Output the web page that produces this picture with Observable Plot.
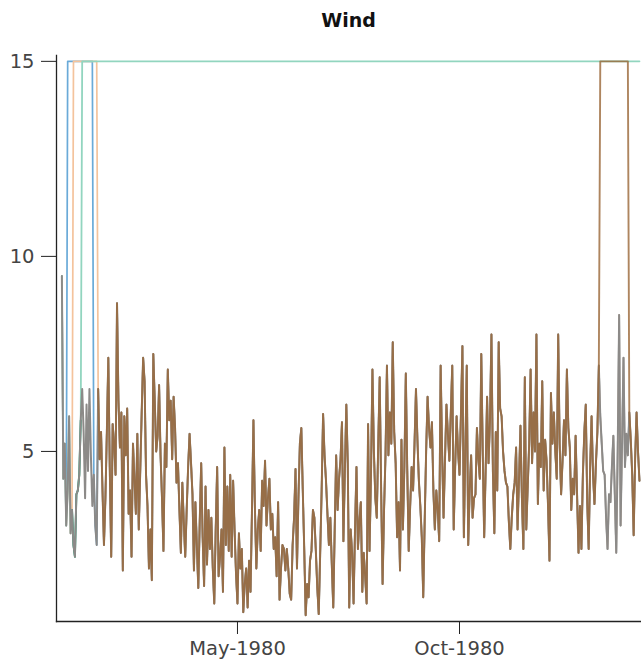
<!DOCTYPE html>
<html>
<head>
<meta charset="utf-8">
<script src="https://cdn.jsdelivr.net/npm/d3@7"></script>
<script src="https://cdn.jsdelivr.net/npm/@observablehq/plot@0.6"></script>
<style>
  html, body { margin: 0; padding: 0; background: #fff; }
  #title { height: 40px; width: 641px; font-family: "DejaVu Sans", sans-serif; font-weight: bold; font-size: 19px; color: #111; box-sizing: border-box; padding-left: 56px; text-align: center; line-height: 40px; }
  #chart svg { display: block; }
</style>
</head>
<body>
<div id="title">Wind</div>
<div id="chart"></div>
<script>
// Daily wind speed, starting 1980-01-01 (one value per day)
const startDate = "1980-01-01";
const wind = [
  9.5,4.3,5.2,3.1,4.0,5.9,2.9,3.5,2.6,2.3,
  3.9,4.0,4.4,5.8,6.6,5.5,3.8,6.2,4.5,6.6,
  4.9,3.6,4.4,3.1,2.6,6.6,4.8,5.5,4.0,2.6,
  3.8,5.5,7.4,4.6,2.3,5.7,5.2,4.4,8.8,6.3,
  5.1,6.0,1.95,5.9,4.9,6.1,3.4,4.0,2.3,5.2,
  4.3,3.4,5.45,3.0,4.5,6.0,7.4,6.8,4.4,3.6,
  2.0,3.0,1.7,7.5,6.3,5.0,5.4,6.7,4.9,3.8,
  2.45,5.2,4.6,7.1,5.8,6.3,4.8,6.4,5.6,4.2,
  4.7,3.5,2.4,4.2,3.2,2.3,3.5,4.6,5.45,4.7,
  3.9,1.95,3.7,2.6,1.5,3.2,4.7,2.8,1.55,4.1,
  2.1,3.5,2.5,3.3,2.0,1.1,3.0,4.6,1.8,2.3,
  3.0,1.4,5.1,2.6,4.1,2.45,4.4,2.3,4.25,3.0,
  1.86,1.1,2.9,2.0,2.5,0.88,1.6,2.0,1.0,2.2,
  1.4,3.5,5.8,3.6,2.0,3.0,3.5,2.45,4.25,3.6,
  4.76,3.1,3.8,4.3,3.0,3.4,2.5,2.8,1.8,3.7,
  1.2,2.0,2.6,2.5,1.95,2.5,2.0,1.35,1.2,2.6,
  3.3,4.55,2.0,3.8,5.2,5.6,4.0,2.5,0.8,1.6,
  1.26,2.2,2.45,3.5,3.3,2.45,1.5,0.83,2.4,4.0,
  5.96,4.9,4.25,3.4,2.6,3.3,2.1,1.0,3.0,4.9,
  3.5,4.3,4.8,5.75,2.7,4.5,6.2,4.7,1.0,3.0,
  2.4,1.1,3.0,4.6,2.5,3.2,3.7,1.4,2.4,1.8,
  1.1,5.7,2.45,4.4,7.1,5.0,3.8,3.3,5.2,6.9,
  4.0,1.6,3.5,4.9,7.2,4.9,6.0,5.2,7.8,5.5,
  4.7,2.8,3.7,1.95,5.3,3.0,4.6,7.0,4.5,2.45,
  3.6,4.6,4.0,5.2,6.6,5.3,4.25,3.6,2.8,1.26,
  3.2,5.0,6.4,5.6,5.1,5.75,4.0,3.0,4.0,3.5,
  2.7,7.2,5.0,3.3,4.8,6.2,5.45,4.76,6.0,7.2,
  3.0,4.6,5.9,5.0,4.4,6.0,7.7,2.8,5.0,7.2,
  2.6,4.0,4.9,3.3,3.8,3.9,5.6,4.8,4.3,7.5,
  5.0,2.8,4.5,6.4,4.7,5.8,8.0,4.5,2.9,5.5,
  4.0,7.8,6.1,5.9,5.0,4.5,4.2,4.1,3.2,2.5,
  3.3,3.9,4.2,5.1,3.0,4.3,5.66,3.8,2.5,6.9,
  3.0,4.1,5.2,7.1,4.7,6.0,5.0,8.0,3.65,5.2,
  4.6,6.8,4.0,5.3,4.76,3.6,2.2,6.5,5.2,6.0,
  5.0,4.3,8.0,5.2,3.9,4.76,5.8,4.9,7.1,5.6,
  5.1,3.5,4.3,3.9,5.4,3.9,2.4,3.6,2.5,4.4,
  5.5,6.2,3.7,2.5,4.6,5.9,4.4,3.65,4.7,5.5,
  7.2,5.9,5.2,4.5,4.4,3.3,2.5,3.9,3.7,4.6,
  5.4,3.9,2.4,5.0,8.5,3.1,5.2,7.4,4.6,5.45,
  4.9,6.0,5.3,4.4,2.85,4.8,6.0,5.0,4.25
];

// Series drawn over the same days: the day ranges where each one sits at the 15 ceiling,
// and the day ranges where a series is shown at all.
const capValue = 15;
const seriesNames   = ["blue", "orange", "teal", "darkgreen", "gray", "brown"];
const seriesColors  = ["#6aaad8", "#f4c39c", "#92d5bf", "#229a74", "#8c8a88", "#9a6637"];
const seriesWidths  = [1.7, 1.7, 1.8, 1.9, 2.0, 1.9];
const seriesOpacity = [1, 1, 1, 1, 1, 0.8];
const capRanges = {
  blue:      [[4, 21]],
  orange:    [[8, 24]],
  teal:      [[14, 398]],
  darkgreen: [],
  gray:      [],
  brown:     [[371, 390]]
};
const shownRanges = {
  darkgreen: [[7, 13]],
  brown:     [[25, 398]]
};

// tick labels
const yTicks = [5, 10, 15];
const xTickDates = ["1980-05-01", "1980-10-01"];

const t0 = new Date(startDate + "T00:00:00Z");
const dayMs = 86400000;
const dateOf = d => new Date(t0.getTime() + d * dayMs);
const inRanges = (d, ranges) => ranges.some(([a, b]) => d >= a && d <= b);

const rows = [];
seriesNames.forEach((name) => {
  wind.forEach((v, d) => {
    let value = v;
    if (shownRanges[name] && !inRanges(d, shownRanges[name])) value = null;
    else if (inRanges(d, capRanges[name] || [])) value = capValue;
    rows.push({series: name, date: dateOf(d), value});
  });
});

const marks = [
  Plot.frame({anchor: "left", stroke: "#222", strokeWidth: 1.3}),
  Plot.frame({anchor: "bottom", stroke: "#222", strokeWidth: 1.3}),
  Plot.axisY({ticks: yTicks, tickSize: 15, tickPadding: 7, tickFormat: d => String(d), fontSize: 19.5, fill: "#444", stroke: "#222", label: null}),
  Plot.axisX({ticks: xTickDates.map(s => new Date(s + "T00:00:00Z")), tickSize: 13, tickPadding: 7, tickFormat: d3.utcFormat("%b-%Y"), fontSize: 19.5, fill: "#444", stroke: "#222", label: null})
];
seriesNames.forEach((name, i) => {
  marks.push(Plot.line(rows.filter(r => r.series === name), {
    x: "date", y: "value", stroke: seriesColors[i], strokeWidth: seriesWidths[i], strokeOpacity: seriesOpacity[i], curve: "linear"
  }));
});

const chart = Plot.plot({
  width: 641,
  height: 628,
  marginTop: 15,
  marginBottom: 47,
  marginLeft: 56,
  marginRight: 0,
  style: {fontFamily: "DejaVu Sans, sans-serif", background: "#fff", overflow: "visible"},
  x: {type: "utc", domain: [dateOf(-3.7), dateOf(399.4)]},
  y: {domain: [0.64, 15.15]},
  marks
});
document.getElementById("chart").appendChild(chart);
</script>
</body>
</html>
